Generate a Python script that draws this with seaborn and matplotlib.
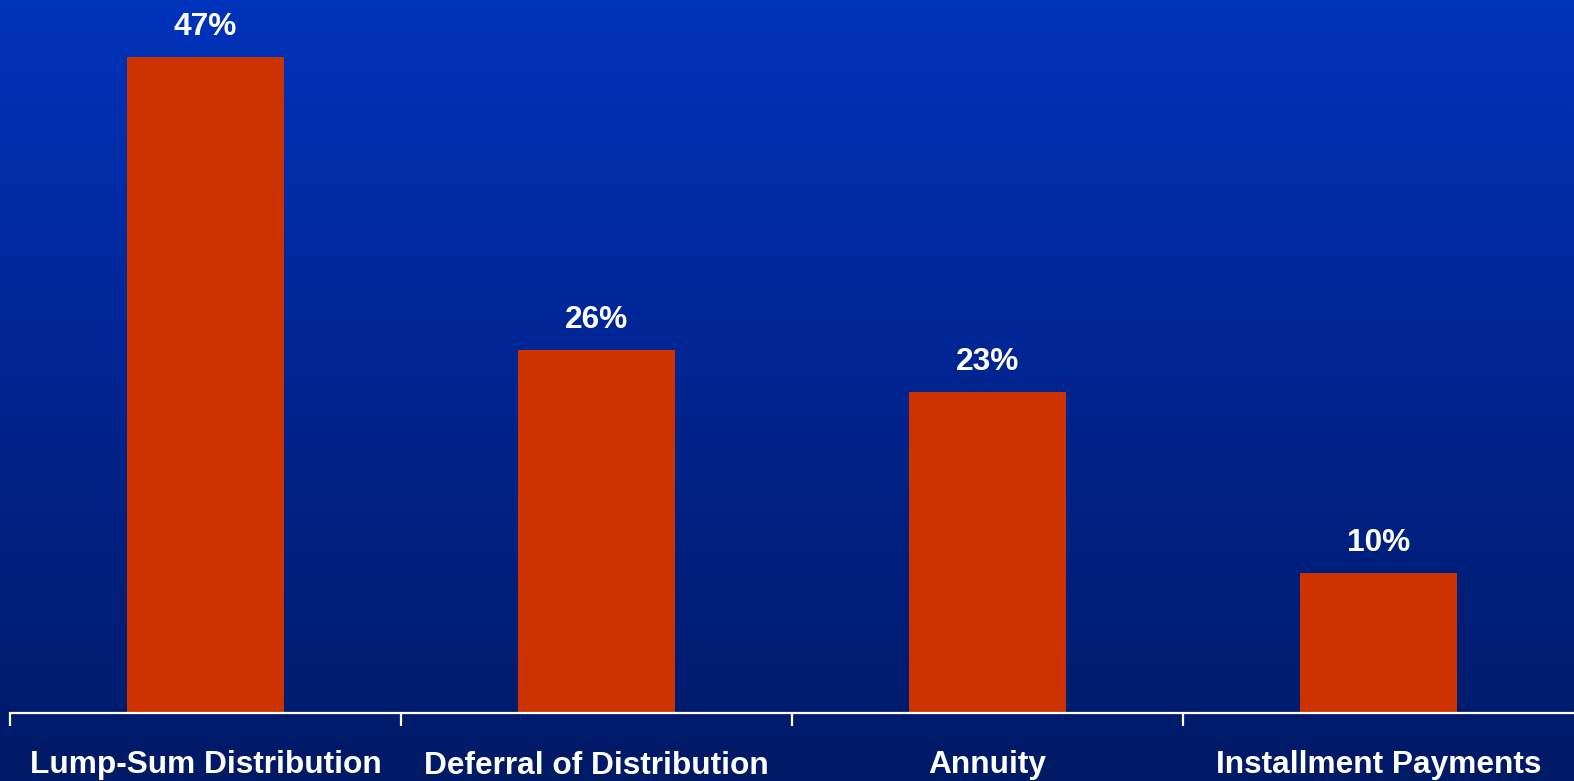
import numpy as np
import pandas as pd
import matplotlib
matplotlib.use("Agg")
import matplotlib.pyplot as plt
from matplotlib.colors import LinearSegmentedColormap
import seaborn as sns

categories = ["Lump-Sum Distribution", "Deferral of Distribution", "Annuity", "Installment Payments"]
shares = [47, 26, 23, 10]
value_labels = ["47%", "26%", "23%", "10%"]

sns.set_style("white")
plt.rcParams["font.family"] = ["Liberation Sans", "DejaVu Sans"]

W, H = 1574, 781
fig = plt.figure(figsize=(W / 100, H / 100), dpi=100)

# vertical blue gradient backdrop
bg = fig.add_axes([0, 0, 1, 1], zorder=0)
grad = np.linspace(0, 1, 256).reshape(-1, 1)
cmap = LinearSegmentedColormap.from_list("bluebg", ["#0033BB", "#00248F", "#001A66"])
bg.imshow(grad, aspect="auto", cmap=cmap, extent=[0, 1, 0, 1], origin="upper")
bg.set_axis_off()

base_px = 713
ax = fig.add_axes([10 / W, (H - base_px) / H, (W - 10) / W, base_px / H], zorder=1)
ax.patch.set_alpha(0)

df = pd.DataFrame({"category": categories, "share": shares})
sns.barplot(data=df, x="category", y="share", color="#CC3300", saturation=1,
            width=0.4, edgecolor="none", linewidth=0, ax=ax)

px_per_unit = (base_px - 57) / shares[0]
ax.set_ylim(0, base_px / px_per_unit)
ax.set_xlim(-0.5, len(categories) - 0.5)

for i, (v, lab) in enumerate(zip(shares, value_labels)):
    ax.annotate(lab, xy=(i, v), xytext=(0, 15), textcoords="offset pixels",
                ha="center", va="bottom", color="white", fontsize=22.8,
                fontweight="bold")

for side in ["top", "right", "left"]:
    ax.spines[side].set_visible(False)
ax.spines["bottom"].set_color("white")
ax.spines["bottom"].set_linewidth(1.6)

ax.set_yticks([])
ax.set_xlabel("")
ax.set_ylabel("")
ax.set_xticks(range(len(categories)))
ax.set_xticklabels(categories, color="white", fontsize=22.8, fontweight="bold")
ax.tick_params(axis="x", which="major", bottom=False, length=0, pad=27)
ax.set_xticks(np.arange(-0.5, len(categories) - 0.5, 1.0), minor=True)
ax.tick_params(axis="x", which="minor", bottom=True, length=9, width=1.6,
               color="white", direction="out")

fig.savefig("out.png", dpi=100)
